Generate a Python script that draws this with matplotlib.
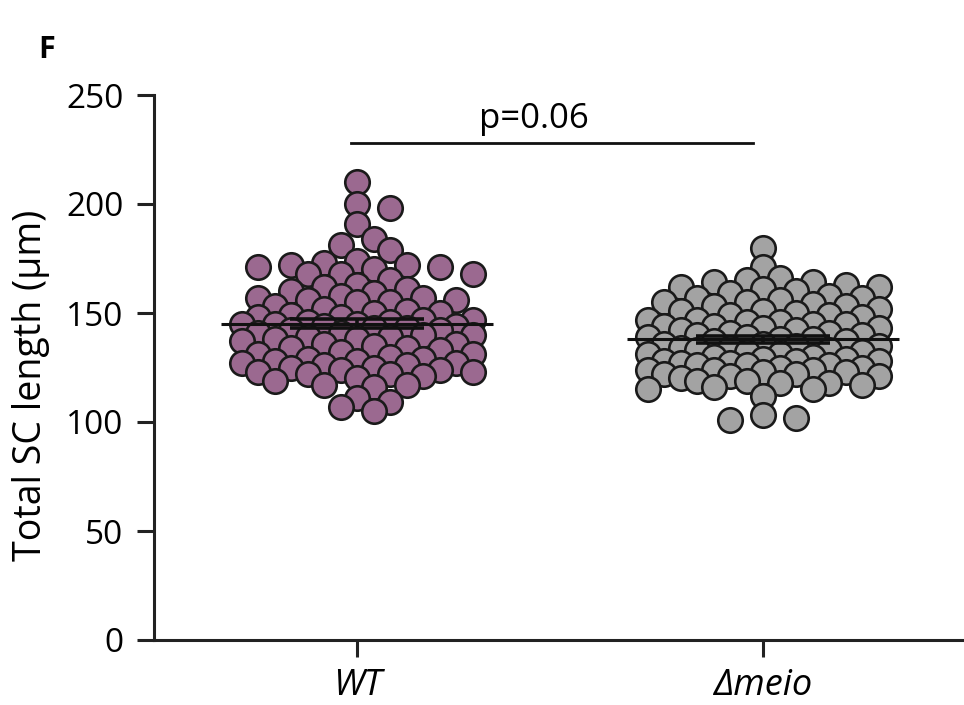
import numpy as np
import matplotlib.pyplot as plt

# data (total SC length, um)
groups = ['WT', 'Δmeio']
wt_len = [210, 200, 198, 191, 184, 181, 179, 174, 173, 172, 172, 171, 171, 170,
          168, 168, 168, 165, 163, 162, 161, 160, 159, 158, 157, 157, 156,
          156, 155, 155, 153, 152, 151, 150, 150, 149, 148, 148, 147,
          147, 146, 146, 145, 145, 145, 144, 144, 143, 143, 142, 142, 141, 141,
          140, 140, 139, 139, 138, 138, 137, 136, 136, 135, 134, 134, 133, 132,
          131, 131, 130, 129, 129, 128, 128, 127, 127, 126, 126, 125, 125, 124,
          124, 123, 123, 122, 122, 121, 120, 119, 117, 117, 116, 111, 109, 107, 105]
meio_len = [180, 171, 166, 165, 164, 164, 163, 162, 162, 161, 160, 159, 158,
            157, 157, 156, 155, 155, 154, 153, 153, 152, 151,
            151, 150, 149, 149, 148, 147, 147, 146, 146, 145, 145, 144,
            144, 143, 143, 142, 142, 141, 141, 140, 140, 139, 139, 138, 138, 137,
            137, 136, 136, 135, 135, 134, 134, 133, 133, 132, 132, 131, 131, 130,
            130, 129, 129, 128, 128, 128, 127, 127, 126, 126, 126, 125, 125, 124,
            124, 124, 123, 123, 122, 122, 121, 121, 120, 119, 119, 118, 118, 117,
            116, 115, 115, 112, 103, 102, 101]
p_label = 'p=0.06'
p_y = 228

colors = ['#9b6990', '#a3a3a3']

plt.rcParams['font.family'] = ['Open Sans', 'DejaVu Sans']

fig = plt.figure(figsize=(9.64, 7.05), dpi=100)
ax = fig.add_axes([154 / 964, 65 / 705, 812 / 964, 545 / 705])
ax.set_xlim(-0.5, 1.5)
ax.set_ylim(0, 250)


def swarm_offsets(vals, step_px, min_px, kmax):
    # prism-like column layout, done in pixel space
    p0 = ax.transData.transform((0, 0))
    p1 = ax.transData.transform((1, 1))
    xs, ys = p1[0] - p0[0], p1[1] - p0[1]
    vals = np.asarray(vals, float)
    offs = np.zeros(len(vals))
    placed = []
    cols = [0]
    for k in range(1, kmax + 1):
        cols += [k, -k]
    for n, i in enumerate(np.argsort(vals)[::-1]):
        y = vals[i] * ys
        best, best_d = None, -1
        for c in cols:
            if n % 2:
                c = -c
            x = c * step_px
            d = min([np.hypot(x - a, y - b) for a, b in placed] or [1e9])
            if d >= min_px:
                best = x
                break
            if d > best_d:
                best, best_d = x, d
        placed.append((best, y))
        offs[i] = best / xs
    return offs


for i, vals in enumerate([wt_len, meio_len]):
    offs = swarm_offsets(vals, 16.5, 18.5, 7)
    ax.scatter(i + offs, vals, s=310, color=colors[i], edgecolor='#1a1a1a',
               linewidth=1.9, zorder=2)
    m = np.mean(vals)
    sem = np.std(vals, ddof=1) / np.sqrt(len(vals))
    ax.hlines(m, i - 0.335, i + 0.335, color='#111111', lw=2.2, zorder=3)
    ax.errorbar(i, m, yerr=sem, color='#111111', capsize=48, capthick=2.6,
                elinewidth=2.6, zorder=3)

ax.plot([-0.015, 0.975], [p_y, p_y], color='#111111', lw=2, clip_on=False)
ax.text(0.435, p_y + 11, p_label, ha='center', va='center', fontsize=25)

for s in ['top', 'right']:
    ax.spines[s].set_visible(False)
for s in ['left', 'bottom']:
    ax.spines[s].set_linewidth(2.2)
    ax.spines[s].set_color('#222222')

ax.set_yticks([0, 50, 100, 150, 200, 250])
ax.set_xticks([0, 1])
ax.set_xticklabels(groups, fontstyle='italic', fontsize=26)
ax.tick_params(axis='both', length=12, width=2.2, color='#222222')
ax.tick_params(axis='y', labelsize=24, pad=10)
ax.tick_params(axis='x', pad=8)
ax.set_ylabel('Total SC length (μm)', fontsize=27)
ax.yaxis.set_label_coords(-0.128, 0.468)

fig.text(38 / 964, 1 - 50 / 705, 'F', fontsize=22, fontweight='bold',
         ha='left', va='center')

fig.savefig('out.png', dpi=100)
